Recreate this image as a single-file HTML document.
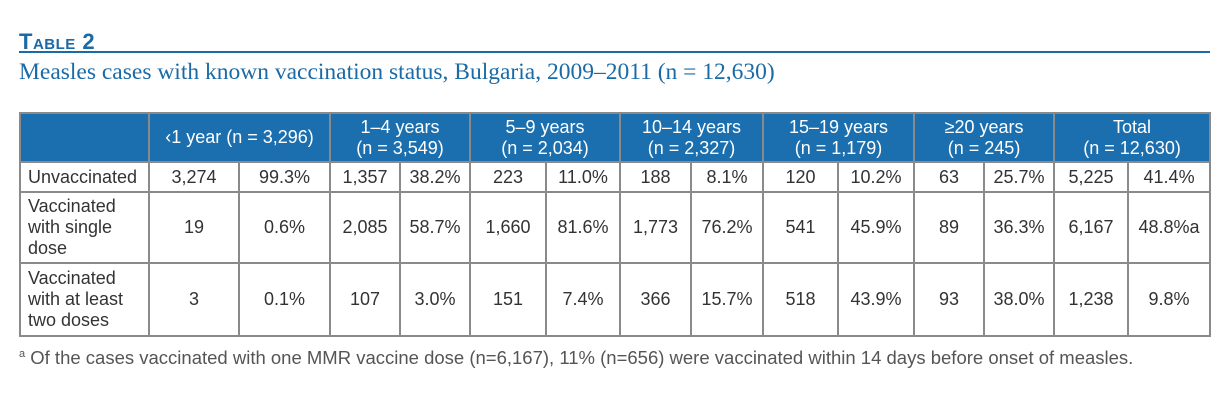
<!DOCTYPE html>
<html><head><meta charset="utf-8"><style>
body{margin:0;width:1230px;height:420px;background:#fff;position:relative;font-family:"Liberation Sans",sans-serif;overflow:hidden}
.t2{position:absolute;left:19px;top:29px;color:#1a6aa6;font-weight:bold;font-size:22px;font-variant:small-caps;letter-spacing:0.5px}
.ul{position:absolute;left:19px;top:51px;width:1191px;height:2px;background:#1a6aa6}
.sub{position:absolute;left:19px;top:59px;color:#1a6aa6;font-family:"Liberation Serif",serif;font-size:23.5px}
table{position:absolute;left:19px;top:112px;border-collapse:collapse;table-layout:fixed;width:1191px}
td{border:2px solid #8a8a8a;text-align:center;font-size:18px;color:#333;padding:0;line-height:21px}
tr.h td{background:#1b6fae;color:#fff;height:47px;font-size:18px}
td.l{text-align:left;padding-left:7px}
.fn{position:absolute;left:19px;top:347px;font-size:18.5px;color:#555}
</style></head><body>
<div class="t2">Table 2</div><div class="ul"></div>
<div class="sub">Measles cases with known vaccination status, Bulgaria, 2009–2011 (n = 12,630)</div>
<table>
<colgroup><col style="width:129px"><col style="width:90px"><col style="width:91px"><col style="width:70px"><col style="width:70px"><col style="width:76px"><col style="width:74px"><col style="width:71px"><col style="width:72px"><col style="width:75px"><col style="width:76px"><col style="width:70px"><col style="width:70px"><col style="width:74px"><col style="width:82px"></colgroup>
<tr class="h"><td></td><td colspan="2">‹1 year (n = 3,296)</td><td colspan="2">1–4 years<br>(n = 3,549)</td><td colspan="2">5–9 years<br>(n = 2,034)</td><td colspan="2">10–14 years<br>(n = 2,327)</td><td colspan="2">15–19 years<br>(n = 1,179)</td><td colspan="2">≥20 years<br>(n = 245)</td><td colspan="2">Total<br>(n = 12,630)</td></tr>
<tr style="height:30px"><td class="l">Unvaccinated</td><td>3,274</td><td>99.3%</td><td>1,357</td><td>38.2%</td><td>223</td><td>11.0%</td><td>188</td><td>8.1%</td><td>120</td><td>10.2%</td><td>63</td><td>25.7%</td><td>5,225</td><td>41.4%</td></tr>
<tr style="height:71px"><td class="l">Vaccinated<br>with single<br>dose</td><td>19</td><td>0.6%</td><td>2,085</td><td>58.7%</td><td>1,660</td><td>81.6%</td><td>1,773</td><td>76.2%</td><td>541</td><td>45.9%</td><td>89</td><td>36.3%</td><td>6,167</td><td>48.8%a</td></tr>
<tr style="height:73px"><td class="l">Vaccinated<br>with at least<br>two doses</td><td>3</td><td>0.1%</td><td>107</td><td>3.0%</td><td>151</td><td>7.4%</td><td>366</td><td>15.7%</td><td>518</td><td>43.9%</td><td>93</td><td>38.0%</td><td>1,238</td><td>9.8%</td></tr>
</table>
<div class="fn"><sup style="font-size:11px">a</sup> Of the cases vaccinated with one MMR vaccine dose (n=6,167), 11% (n=656) were vaccinated within 14 days before onset of measles.</div>
</body></html>
